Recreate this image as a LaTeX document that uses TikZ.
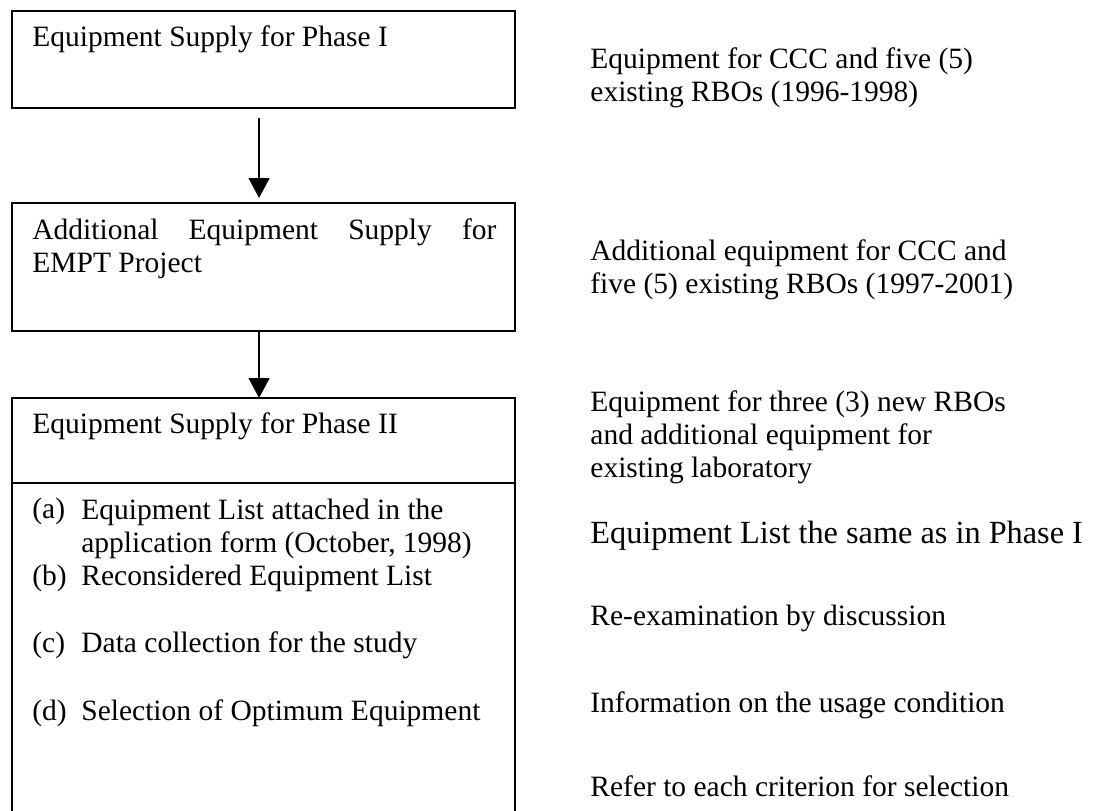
\documentclass[tikz,border=0pt]{standalone}
\usepackage{fontspec}
\setmainfont{Liberation Serif}
\usetikzlibrary{arrows.meta,positioning}

\begin{document}
\begin{tikzpicture}[x=0.5pt, y=-0.5pt,
    box/.style={draw, line width=1pt, minimum width=251.75pt, inner sep=0pt, outer sep=0pt, anchor=north west},
    txt/.style={anchor=base west, inner sep=0pt, align=left, font=\fontsize{14.75pt}{16.5pt}\selectfont},
    bigtxt/.style={txt, font=\fontsize{16.15pt}{18pt}\selectfont},
    flow/.style={-{Triangle[width=10.5pt,length=10pt]}, line width=0.65pt}]
    \useasboundingbox (0,0) rectangle (1094,810);
        \node[box, minimum height=48.4pt] (phase1) at (11.5,10.7) {};
            \node[txt] (phase1txt) at (32,46) {Equipment Supply for Phase I};
        \node[box, minimum height=64pt] (addl) at (11.5,203) {};
            \node[txt, text width=232pt, align=justify] (addltxt) at (32,239) {Additional Equipment Supply for\linebreak EMPT Project};
        \node[box, minimum height=216pt] (phase2) at (11.5,398) {};
            \node[txt] (phase2txt) at (32,433) {Equipment Supply for Phase II};
            \draw[line width=1pt] ([yshift=-42.5pt]phase2.north west) -- ([yshift=-42.5pt]phase2.north east);
            % multi-line nodes sit on their last line
            \node[txt] (lbla) at (32,518) {(a)};
                \node[txt] (itema) at (81,552) {Equipment List attached in the\\application form (October, 1998)};
            \node[txt] (lblb) at (32,585) {(b)};
                \node[txt] (itemb) at (81,585) {Reconsidered Equipment List};
            \node[txt] (lblc) at (32,652) {(c)};
                \node[txt] (itemc) at (81,652) {Data collection for the study};
            \node[txt] (lbld) at (32,720) {(d)};
                \node[txt] (itemd) at (81,720) {Selection of Optimum Equipment};

        \draw[flow] ([xshift=-2.1pt, yshift=-5.25pt]phase1.south) -- ([xshift=-2.1pt, yshift=2.5pt]addl.north);
        \draw[flow] ([xshift=-2.1pt]addl.south) -- ([xshift=-2.1pt]phase2.north);

        % notes on the right
        \node[txt] (note1) at (590,101) {Equipment for CCC and five (5)\\existing RBOs (1996-1998)};
        \node[txt] (note2) at (590,293) {Additional equipment for CCC and\\five (5) existing RBOs (1997-2001)};
        \node[txt] (note3) at (590,477) {Equipment for three (3) new RBOs\\and additional equipment for\\existing laboratory};
        \node[bigtxt] (note4) at (590,543) {Equipment List the same as in Phase I};
        \node[txt] (note5) at (590,625) {Re-examination by discussion};
        \node[txt] (note6) at (590,712) {Information on the usage condition};
        \node[txt] (note7) at (590,796) {Refer to each criterion for selection};
\end{tikzpicture}
\end{document}
